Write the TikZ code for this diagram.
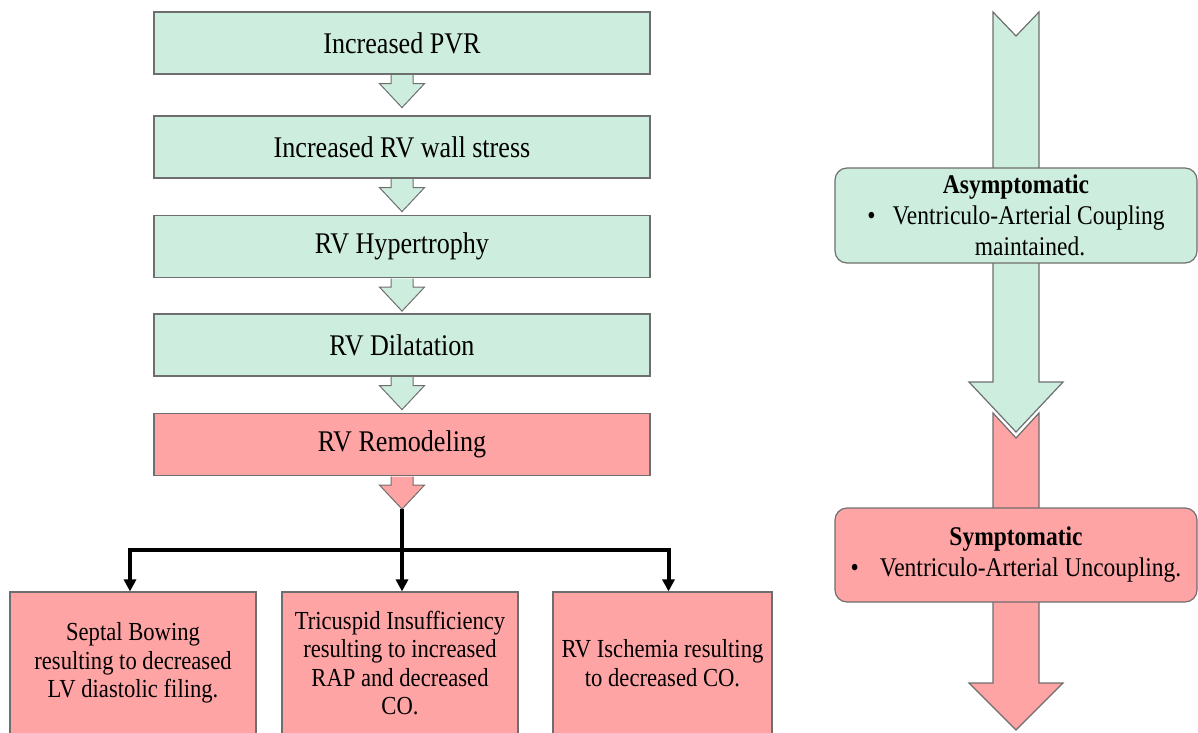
\documentclass[tikz,border=0pt]{standalone}
\usepackage{fontspec}
\setmainfont{Liberation Serif}[FakeStretch=0.87]
\usetikzlibrary{arrows.meta}

\definecolor{mint}{RGB}{205,238,222}
\definecolor{salmon}{RGB}{255,164,164}
\definecolor{edgegray}{RGB}{110,110,110}

\tikzset{
  flowbox/.style={draw=edgegray, line width=1.2pt, minimum width=496pt, minimum height=62pt,
    inner sep=0pt, font=\fontsize{30}{34}\selectfont},
  effectbox/.style={draw=edgegray, fill=salmon, line width=1.2pt, minimum height=142pt,
    inner sep=0pt, align=center, font=\fontsize{26}{28.5}\selectfont},
  stagebox/.style={draw=edgegray, line width=1.2pt, rounded corners=12pt, minimum width=362pt,
    align=center, font=\fontsize{27}{31}\selectfont},
  bus/.style={line width=4pt},
}

% small block arrow hanging under a box
\newcommand{\blockdown}[2]{%
  \filldraw[draw=edgegray, fill=#2, line width=1pt, shift={(#1.south)}]
    (-11,0.6) -- (-11,9) -- (-22.5,9) -- (0,33) -- (22.5,9) -- (11,9) -- (11,0.6);
}

\begin{document}
\begin{tikzpicture}[x=1pt,y=-1pt]
  \useasboundingbox (0,0) rectangle (1198,732);
  \clip (0,0) rectangle (1198,732);

  % left column
  \node[flowbox, fill=mint] (pvr) at (402,43) {Increased PVR};
  \node[flowbox, fill=mint] (stress) at (402,147) {Increased RV wall stress};
  \node[flowbox, fill=mint] (hyper) at (402,246.5) {RV Hypertrophy};
  \node[flowbox, fill=mint] (dilat) at (402,345) {RV Dilatation};
  \node[flowbox, fill=salmon] (remod) at (402,444.5) {RV Remodeling};
  \blockdown{pvr}{mint}
  \blockdown{stress}{mint}
  \blockdown{hyper}{mint}
  \blockdown{dilat}{mint}
  \blockdown{remod}{salmon}

  % consequences
  \node[effectbox, minimum width=246pt] (septal) at (133,663)
    {Septal Bowing\\resulting to decreased\\LV diastolic filing.};
  \node[effectbox, minimum width=236pt] (tricusp) at (400,663)
    {Tricuspid Insufficiency\\resulting to increased\\RAP and decreased\\CO.};
  \node[effectbox, minimum width=219pt] (ischemia) at (662.5,663)
    {RV Ischemia resulting\\to decreased CO.};

  \path (remod.south) ++(0,33) coordinate (split);
  \coordinate (fork) at (402,550);
  \coordinate (dropA) at ([xshift=-3pt]septal.north);
  \coordinate (dropB) at (tricusp.north -| split);
  \coordinate (dropC) at ([xshift=6pt]ischemia.north);
  \draw[bus] (split) -- (fork);
  \draw[bus, line cap=rect] (dropA |- fork) -- (dropC |- fork);
  \foreach \n in {dropA,dropB,dropC}
    \draw[bus, -{Triangle[width=12pt,length=12pt]}] (\n |- fork) -- (\n);

  % right column
  \filldraw[draw=edgegray, fill=salmon, line width=1.2pt]
    (993,413) -- (1016,438) -- (1039,413) -- (1039,683) -- (1063,683)
    -- (1016,730) -- (969,683) -- (993,683) -- cycle;
  \filldraw[draw=edgegray, fill=mint, line width=1.2pt]
    (993,12) -- (1016,36) -- (1039,12) -- (1039,382) -- (1063,382)
    -- (1016,432) -- (969,382) -- (993,382) -- cycle;

  \node[stagebox, fill=mint, minimum height=95pt] (asym) at (1016,215.5)
    {\textbf{Asymptomatic}\\\textbullet\hspace{17pt}Ventriculo-Arterial Coupling\\\hspace*{28pt}maintained.};
  \node[stagebox, fill=salmon, minimum height=94pt] (sym) at (1016,555)
    {\textbf{Symptomatic}\\\textbullet\hspace{21pt}Ventriculo-Arterial Uncoupling.};
\end{tikzpicture}
\end{document}
